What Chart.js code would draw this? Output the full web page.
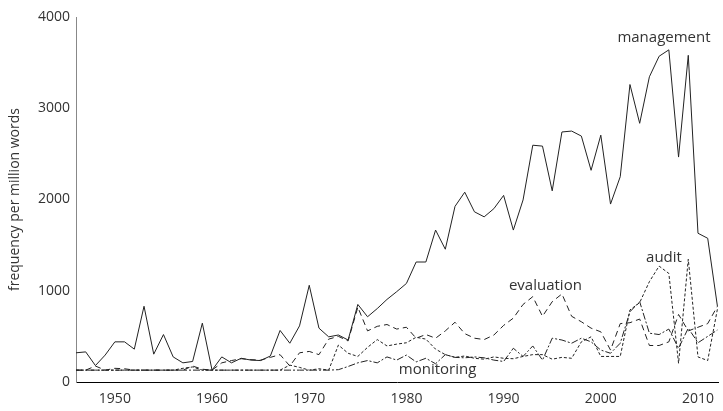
<!DOCTYPE html>
<html>
<head>
<meta charset="utf-8">
<script src="https://cdn.jsdelivr.net/npm/chart.js@4"></script>
<style>
  html, body { margin: 0; padding: 0; background: #fff; }
  #chart { display: block; }
</style>
</head>
<body>
<canvas id="chart" width="723" height="411"></canvas>
<script>
// years on the x axis, one point per year
let years = [1946,1947,1948,1949,1950,1951,1952,1953,1954,1955,
             1956,1957,1958,1959,1960,1961,1962,1963,1964,1965,
             1966,1967,1968,1969,1970,1971,1972,1973,1974,1975,
             1976,1977,1978,1979,1980,1981,1982,1983,1984,1985,
             1986,1987,1988,1989,1990,1991,1992,1993,1994,1995,
             1996,1997,1998,1999,2000,2001,2002,2003,2004,2005,
             2006,2007,2008,2009,2010,2011,2012];

let management = [320,330,180,295,440,440,360,830,305,520,
                  275,210,225,645,130,275,210,260,240,235,
                  285,565,425,615,1060,590,495,515,460,850,
                  715,805,905,990,1080,1315,1315,1665,1455,1925,
                  2080,1865,1810,1900,2045,1665,1995,2595,2585,2095,
                  2740,2750,2695,2320,2705,1950,2250,3260,2835,3345,
                  3570,3640,2465,3580,1630,1575,830];

let evaluation = [130,130,175,130,150,145,130,130,130,130,
                  130,130,175,140,130,210,235,255,245,240,
                  270,300,175,320,335,300,470,500,450,820,
                  560,610,630,580,600,480,520,480,560,655,
                  530,480,465,515,620,700,850,935,720,880,
                  965,720,660,590,550,350,640,650,690,400,
                  400,440,740,560,600,640,830];

let audit = [130,130,130,130,130,130,130,130,130,130,
             130,150,165,130,130,130,130,130,130,130,
             130,130,185,160,130,145,130,405,315,280,
             380,465,395,415,430,490,470,360,300,270,
             285,260,250,275,260,255,280,300,300,250,
             270,260,440,495,280,280,280,790,870,1100,
             1270,1190,205,1345,275,235,800];

let monitoring = [130,130,130,130,130,130,130,130,130,130,
                  130,130,130,130,130,130,130,130,130,130,
                  130,130,130,130,130,130,130,135,170,210,
                  235,210,275,240,295,220,260,200,300,270,
                  265,275,265,240,225,370,280,395,240,480,
                  460,425,480,440,350,315,425,770,880,535,
                  520,580,370,590,430,500,570];

let xTickLabels = [1950,1960,1970,1980,1990,2000,2010];
let yTickLabels = [0,1000,2000,3000,4000];

// text labels placed next to the lines (year, value)
let lineNames = ['management','evaluation','audit','monitoring'];
let nameYears = [2006.5, 1994.3, 2006.5, 1983.2];
let nameValues = [3770, 1060, 1360, 130];

const fontFamily = '"Open Sans", "DejaVu Sans", sans-serif';
const ink = '#222';

function toPoints(values) {
    return values.map(function (v, i) { return { x: years[i], y: v }; });
}

// draws the series names straight onto the plot
const lineNamesPlugin = {
    id: 'lineNames',
    afterDatasetsDraw: function (chart) {
        const ctx = chart.ctx;
        const xs = chart.scales.x, ys = chart.scales.y;
        ctx.save();
        ctx.font = '15px ' + fontFamily;
        ctx.fillStyle = '#333';
        ctx.textAlign = 'center';
        ctx.textBaseline = 'middle';
        for (let i = 0; i < lineNames.length; i++) {
            ctx.fillText(lineNames[i], xs.getPixelForValue(nameYears[i]), ys.getPixelForValue(nameValues[i]));
        }
        ctx.restore();
    }
};

function lineSet(label, values, dash) {
    return {
        label: label,
        data: toPoints(values),
        borderColor: ink,
        borderWidth: 1,
        borderDash: dash,
        pointRadius: 0,
        fill: false,
        tension: 0
    };
}

new Chart(document.getElementById('chart'), {
    type: 'line',
    data: {
        datasets: [
            lineSet('monitoring', monitoring, [7, 2, 2, 2]),
            lineSet('audit', audit, [3, 2]),
            lineSet('evaluation', evaluation, [6, 4]),
            lineSet('management', management, [])
        ]
    },
    options: {
        responsive: false,
        animation: false,
        layout: { padding: { top: 17, right: 0, bottom: 0, left: 0 } },
        plugins: {
            legend: { display: false },
            tooltip: { enabled: false }
        },
        scales: {
            x: {
                type: 'linear',
                min: 1946,
                max: 2012.15,
                grid: { display: false, drawTicks: false },
                border: { color: '#000', width: 1 },
                ticks: {
                    color: '#333',
                    padding: 9,
                    font: { family: fontFamily, size: 14 },
                    callback: function (v) { return String(v); }
                },
                afterBuildTicks: function (scale) {
                    scale.ticks = xTickLabels.map(function (v) { return { value: v }; });
                },
                afterFit: function (scale) { scale.height = 29; }
            },
            y: {
                min: 0,
                max: 4000,
                grid: { display: false, drawTicks: false },
                border: { color: '#888', width: 1 },
                ticks: {
                    color: '#333',
                    padding: 6,
                    font: { family: fontFamily, size: 14 },
                    callback: function (v) { return String(v); }
                },
                afterBuildTicks: function (scale) {
                    scale.ticks = yTickLabels.map(function (v) { return { value: v }; });
                },
                title: {
                    display: true,
                    text: 'frequency per million words',
                    color: '#333',
                    padding: { top: 7, bottom: 0 },
                    font: { family: fontFamily, size: 14 }
                },
                afterFit: function (scale) { scale.width = 76; }
            }
        }
    },
    plugins: [lineNamesPlugin]
});
</script>
</body>
</html>
